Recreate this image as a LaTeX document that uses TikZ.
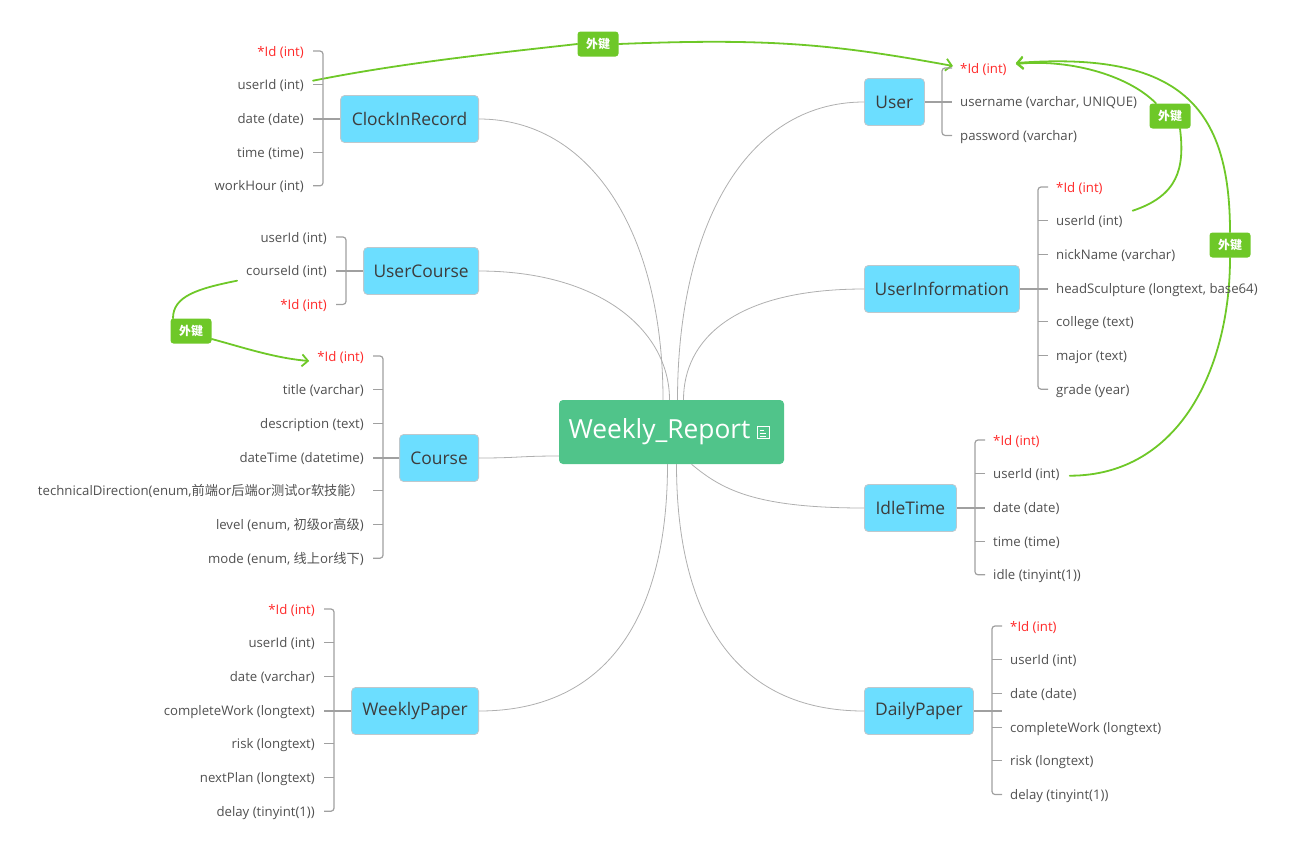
\documentclass[tikz,border=0pt]{standalone}
\usepackage{fontspec}
\setmainfont{Open Sans}
\newfontfamily\cjk{Noto Sans CJK SC}
\usetikzlibrary{arrows.meta,calc,backgrounds}

\definecolor{tblblue}{RGB}{108,222,255}
\definecolor{tblline}{RGB}{190,200,205}
\definecolor{tbltext}{RGB}{60,60,60}
\definecolor{rootgreen}{RGB}{80,196,138}
\definecolor{fldgray}{RGB}{80,80,80}
\definecolor{idred}{RGB}{255,40,40}
\definecolor{brkgray}{RGB}{160,160,160}
\definecolor{linkgray}{RGB}{175,175,175}
\definecolor{fkgreen}{RGB}{110,200,40}

\tikzset{
  fld/.style={inner sep=0pt, text=fldgray, font=\fontsize{13.2}{16}\selectfont,
    text height=11pt, text depth=1pt},
  fldl/.style={fld, anchor=east},
  fldr/.style={fld, anchor=west},
  tbl/.style={draw=tblline, line width=0.8pt, fill=tblblue, rounded corners=4pt,
    minimum height=47pt, inner xsep=8pt, text=tbltext,
    font=\fontsize{17.4}{21}\selectfont},
  tbll/.style={tbl, anchor=east},
  tblr/.style={tbl, anchor=west},
  root/.style={fill=rootgreen, rounded corners=4pt, minimum width=225pt,
    minimum height=64pt, text=white, font=\fontsize{26.3}{31}\selectfont},
  brk/.style={draw=brkgray, line width=1.2pt, rounded corners=3pt},
  link/.style={draw=linkgray, line width=0.8pt},
  fk/.style={fill=fkgreen, rounded corners=3pt, text=white, inner sep=2pt,
    minimum width=41pt, minimum height=25pt,
    font=\cjk\bfseries\fontsize{12}{14}\selectfont},
  fkline/.style={draw=fkgreen, line width=1.8pt, line cap=round},
  fkarrow/.style={fkline, -{Straight Barb[length=6pt,width=12pt]}}
}

\begin{document}
\begin{tikzpicture}[x=1pt,y=-1pt]
\useasboundingbox (0,0) rectangle (1300,855);

% centre topic
\node[root] (root) at (671.5,432) {Weekly\_Report\kern24pt};
\draw[white, line width=0.9pt] ([xshift=-27pt,yshift=6pt]root.east) rectangle ++(12,12);
\draw[white, line width=0.9pt] (760,430) -- (764,430) (760,433) -- (766,433) (760,436) -- (766,436);

% tables
\node[tbll, minimum width=138pt] (clock) at (479,119) {ClockInRecord};
\node[tbll, minimum width=115pt] (ucourse) at (479,271) {UserCourse};
\node[tbll, minimum width=79pt] (course) at (479,458) {Course};
\node[tbll, minimum width=127pt] (weekly) at (479,711) {WeeklyPaper};
\node[tblr, minimum width=60pt] (user) at (864,102) {User};
\node[tblr, minimum width=155pt] (uinfo) at (864,289) {UserInformation};
\node[tblr, minimum width=92pt] (idle) at (864,508) {IdleTime};
\node[tblr, minimum width=109pt] (daily) at (864,711) {DailyPaper};

% fields, left side
\foreach \t [count=\i] in {{\color{idred}*Id (int)}, {userId (int)}, {date (date)},
    {time (time)}, {workHour (int)}}
  \node[fldl] (cr\i) at (304,{51+(\i-1)*33.7}) {\t};
\foreach \t [count=\i] in {{userId (int)}, {courseId (int)}, {\color{idred}*Id (int)}}
  \node[fldl] (uc\i) at (327,{237+(\i-1)*33.7}) {\t};
\foreach \t [count=\i] in {{\color{idred}*Id (int)}, {title (varchar)}, {description (text)},
    {dateTime (datetime)},
    {technicalDirection(enum,{\cjk 前端}or{\cjk 后端}or{\cjk 测试}or{\cjk 软技能）}},
    {level (enum, {\cjk 初级}or{\cjk 高级})}, {mode (enum, {\cjk 线上}or{\cjk 线下})}}
  \node[fldl] (co\i) at (364,{356+(\i-1)*33.7}) {\t};
\foreach \t [count=\i] in {{\color{idred}*Id (int)}, {userId (int)}, {date (varchar)},
    {completeWork (longtext)}, {risk (longtext)}, {nextPlan (longtext)}, {delay (tinyint(1))}}
  \node[fldl] (wp\i) at (315,{609+(\i-1)*33.7}) {\t};

% fields, right side
\foreach \t [count=\i] in {{\color{idred}*Id (int)}, {username (varchar, UNIQUE)},
    {password (varchar)}}
  \node[fldr] (us\i) at (960,{68+(\i-1)*33.7}) {\t};
\foreach \t [count=\i] in {{\color{idred}*Id (int)}, {userId (int)}, {nickName (varchar)},
    {headSculpture (longtext, base64)}, {college (text)}, {major (text)}, {grade (year)}}
  \node[fldr] (ui\i) at (1056,{187+(\i-1)*33.7}) {\t};
\foreach \t [count=\i] in {{\color{idred}*Id (int)}, {userId (int)}, {date (date)},
    {time (time)}, {idle (tinyint(1))}}
  \node[fldr] (it\i) at (993,{440+(\i-1)*33.7}) {\t};
\foreach \t [count=\i] in {{\color{idred}*Id (int)}, {userId (int)}, {date (date)},
    {completeWork (longtext)}, {risk (longtext)}, {delay (tinyint(1))}}
  \node[fldr] (dp\i) at (1010,{626+(\i-1)*33.7}) {\t};

% brackets, left side
\draw[brk] ([xshift=9pt]cr1.east) -- ++(10,0) |- ([xshift=9pt]cr5.east);
\foreach \i in {2,3,4} \draw[brk] ([xshift=9pt]cr\i.east) -- ++(10,0);
\draw[brk] (clock.west) -- ($(clock.west -| cr1.east)+(9,0)$);

\draw[brk] ([xshift=9pt]uc1.east) -- ++(10,0) |- ([xshift=9pt]uc3.east);
\draw[brk] (ucourse.west) -- ($(ucourse.west -| uc1.east)+(9,0)$);

\draw[brk] ([xshift=9pt]co1.east) -- ++(10,0) |- ([xshift=9pt]co7.east);
\foreach \i in {2,...,6} \draw[brk] ([xshift=9pt]co\i.east) -- ++(10,0);
\draw[brk] (course.west) -- ($(course.west -| co1.east)+(9,0)$);

\draw[brk] ([xshift=9pt]wp1.east) -- ++(10,0) |- ([xshift=9pt]wp7.east);
\foreach \i in {2,...,6} \draw[brk] ([xshift=9pt]wp\i.east) -- ++(10,0);
\draw[brk] (weekly.west) -- ($(weekly.west -| wp1.east)+(9,0)$);

% brackets, right side
\draw[brk] ([xshift=-8pt]us1.west) -- ++(-10,0) |- ([xshift=-8pt]us3.west);
\draw[brk] (user.east) -- ($(user.east -| us1.west)+(-8,0)$);

\draw[brk] ([xshift=-8pt]ui1.west) -- ++(-10,0) |- ([xshift=-8pt]ui7.west);
\foreach \i in {2,...,6} \draw[brk] ([xshift=-8pt]ui\i.west) -- ++(-10,0);
\draw[brk] (uinfo.east) -- ($(uinfo.east -| ui1.west)+(-8,0)$);

\draw[brk] ([xshift=-8pt]it1.west) -- ++(-10,0) |- ([xshift=-8pt]it5.west);
\foreach \i in {2,3,4} \draw[brk] ([xshift=-8pt]it\i.west) -- ++(-10,0);
\draw[brk] (idle.east) -- ($(idle.east -| it1.west)+(-8,0)$);

\draw[brk] ([xshift=-8pt]dp1.west) -- ++(-10,0) |- ([xshift=-8pt]dp6.west);
\foreach \i in {2,...,5} \draw[brk] ([xshift=-8pt]dp\i.west) -- ++(-10,0);
\draw[brk] (daily.east) -- ($(daily.east -| dp1.west)+(-8,0)$);

% links to the centre
\draw[link] (clock.east) .. controls +(110,0) and +(0,-170) .. ([xshift=-8.5pt]root.north);
\draw[link] (ucourse.east) .. controls +(120,0) and +(0,-70) .. ([xshift=-2pt]root.north);
\draw[link] (course.east) .. controls +(40,0) and +(-40,0) .. ([yshift=-24pt]root.west);
\draw[link] (weekly.east) .. controls +(130,0) and +(0,150) .. ([xshift=-4pt]root.south);
\draw[link] (user.west) .. controls +(-120,0) and +(0,-170) .. ([xshift=6pt]root.north);
\draw[link] (uinfo.west) .. controls +(-130,0) and +(0,-60) .. ([xshift=12pt]root.north);
\draw[link] (idle.west) .. controls +(-110,0) and +(30,25) .. ([xshift=20pt]root.south);
\draw[link] (daily.west) .. controls +(-130,0) and +(0,150) .. ([xshift=5pt]root.south);

% foreign keys
\node[fk] (fkA) at (598,44) {外键};
\node[fk] (fkB) at (1170,116) {外键};
\node[fk] (fkC) at (1230,245) {外键};
\node[fk] (fkD) at (191,331) {外键};

\begin{scope}[on background layer]
\draw[fkline] ([xshift=9pt,yshift=4pt]cr2.east) .. controls +(90,-18) and +(-80,9) .. (fkA.west);
\draw[fkarrow] (fkA.east) .. controls +(150,-6) and +(-120,-22) .. ([xshift=-7pt,yshift=2pt]us1.west);

\draw[fkline] ([xshift=10pt,yshift=10pt]ui2.east) .. controls +(45,-15) and +(5,40) .. ([xshift=10pt]fkB.south);
\draw[fkarrow] ([xshift=-14pt]fkB.north) .. controls +(-30,-30) and +(50,-5) .. ([xshift=9pt,yshift=4pt]us1.east);

\draw[fkline] ([xshift=10pt,yshift=-2pt]it2.east) .. controls +(110,0) and +(0,110) .. (fkC.south);
\draw[fkarrow] (fkC.north) .. controls +(0,-125) and +(165,-12) .. ([xshift=9pt,yshift=5pt]us1.east);

\draw[fkline] ([xshift=-9pt,yshift=-10pt]uc2.west) .. controls +(-40,8) and +(0,-22) .. ([xshift=-18pt]fkD.north);
\draw[fkarrow] ([yshift=-8pt]fkD.east) .. controls +(30,8) and +(-35,-3) .. ([xshift=-8pt,yshift=-5pt]co1.west);
\end{scope}
\end{tikzpicture}
\end{document}
